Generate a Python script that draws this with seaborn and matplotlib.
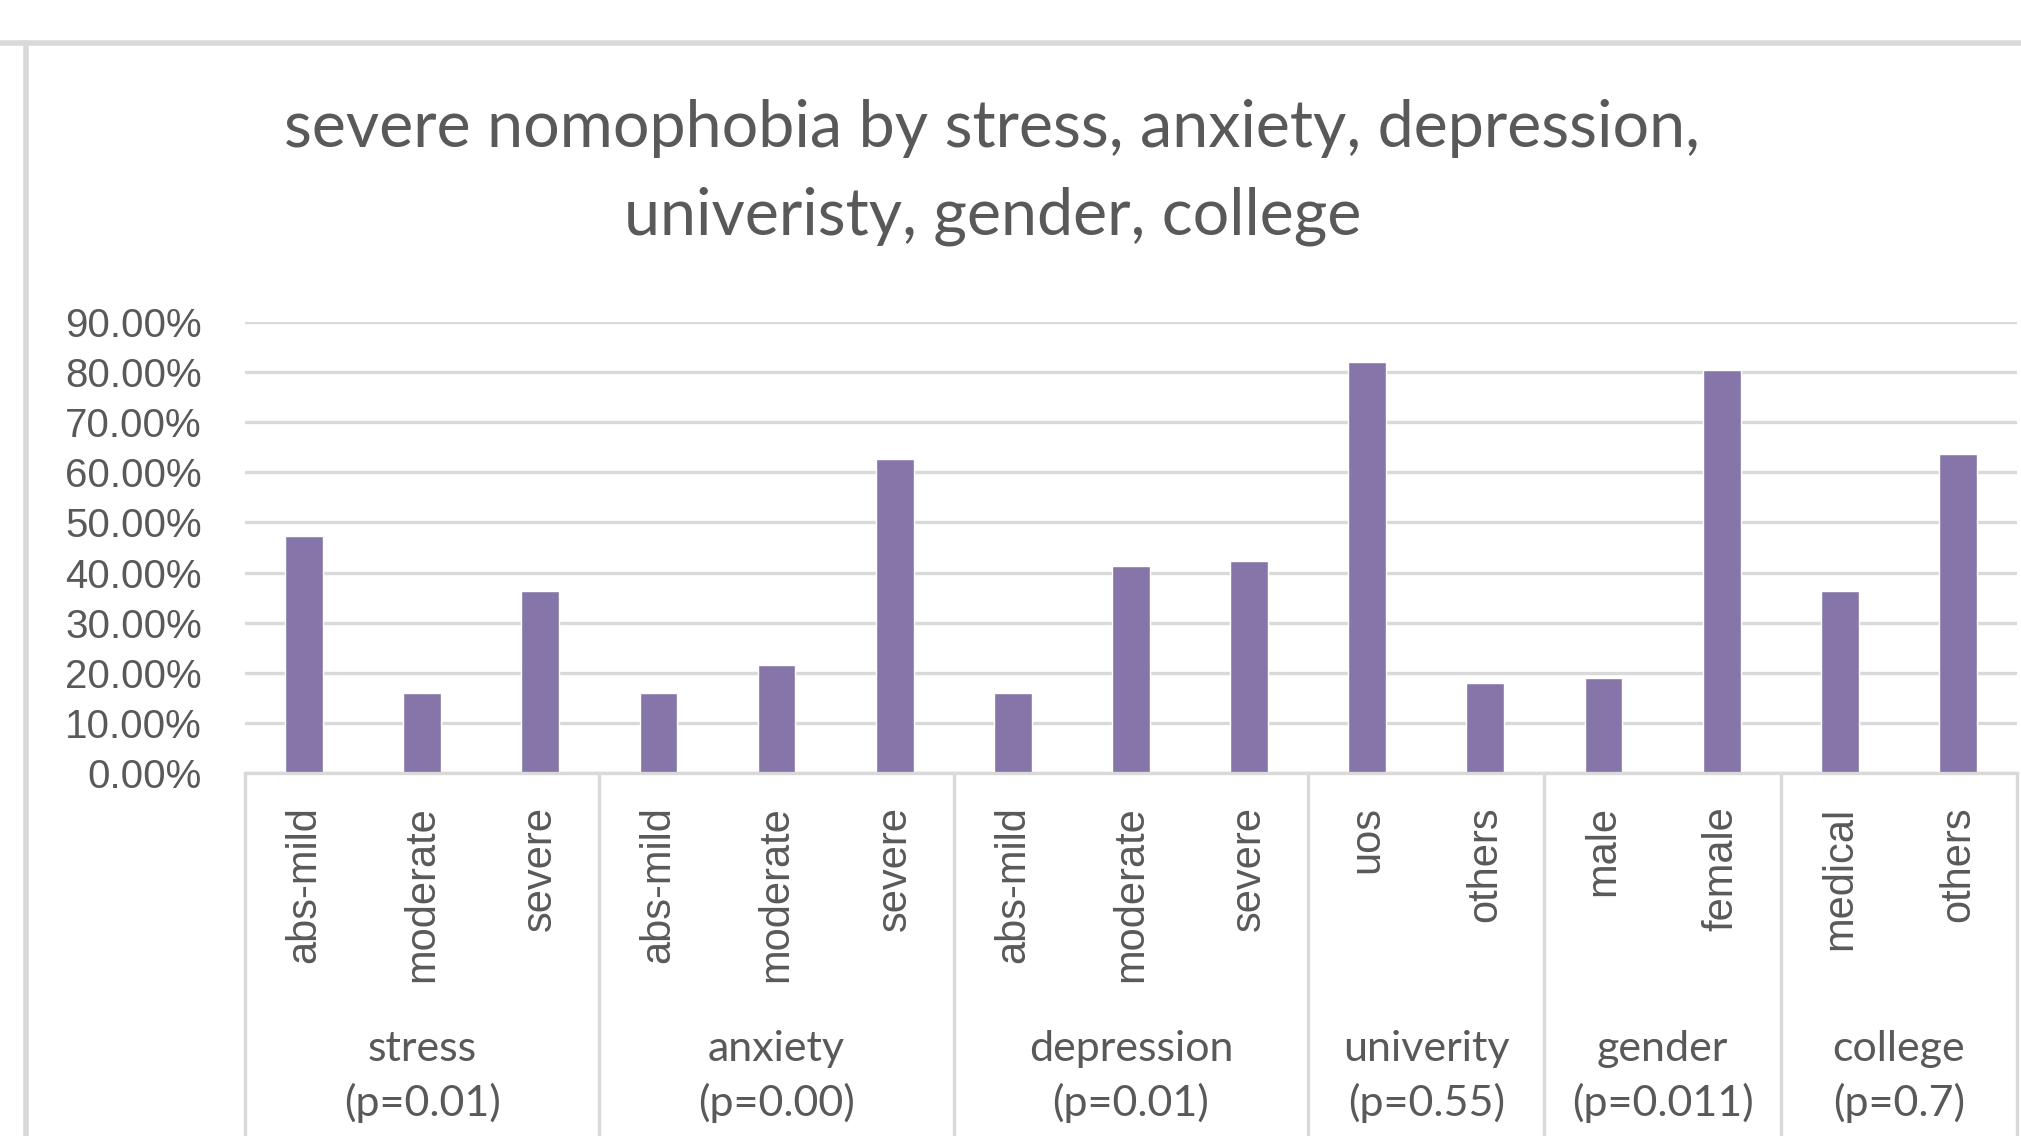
import matplotlib.pyplot as plt
import matplotlib.ticker as mtick
import matplotlib.transforms as mtrans
from matplotlib.lines import Line2D
import pandas as pd
import seaborn as sns

# --- data ---
bar_groups = ["stress", "stress", "stress",
              "anxiety", "anxiety", "anxiety",
              "depression", "depression", "depression",
              "univerity", "univerity",
              "gender", "gender",
              "college", "college"]
bar_levels = ["abs-mild", "moderate", "severe",
              "abs-mild", "moderate", "severe",
              "abs-mild", "moderate", "severe",
              "uos", "others",
              "male", "female",
              "medical", "others"]
bar_values = [0.473, 0.160, 0.363,
              0.160, 0.215, 0.627,
              0.160, 0.413, 0.423,
              0.820, 0.180,
              0.190, 0.805,
              0.363, 0.637]

group_names = ["stress", "anxiety", "depression", "univerity", "gender", "college"]
group_pvalues = ["(p=0.01)", "(p=0.00)", "(p=0.01)", "(p=0.55)", "(p=0.011)", "(p=0.7)"]

title_lines = ["severe nomophobia by stress, anxiety, depression,",
               "univeristy, gender, college"]

BAR_COLOR = "#8675A9"
TEXT_COLOR = "#595959"
LINE_COLOR = "#D9D9D9"
TITLE_FONT = ["Lato", "DejaVu Sans"]

sns.set_theme(style="white")
plt.rcParams["font.family"] = ["Liberation Sans", "DejaVu Sans"]

df = pd.DataFrame({"group": bar_groups, "level": bar_levels, "value": bar_values})
# levels repeat across groups, so give every bar its own key
df["key"] = df["group"] + "|" + df["level"]

fig = plt.figure(figsize=(20.21, 11.36), dpi=100)
ax = fig.add_axes([0.1212, 0.3195, 0.8768, 0.397])

sns.barplot(data=df, x="key", y="value", color=BAR_COLOR, saturation=1,
            width=0.32, ax=ax)

ax.set_xlim(-0.5, len(df) - 0.5)
ax.set_ylim(0, 0.9)
ax.yaxis.set_major_locator(mtick.MultipleLocator(0.1))
ax.yaxis.set_major_formatter(mtick.PercentFormatter(1.0, decimals=2))
ax.grid(axis="y", color=LINE_COLOR, linewidth=2.4)
ax.grid(axis="x", visible=False)
ax.set_axisbelow(True)
for side in ["top", "right", "left"]:
    ax.spines[side].set_visible(False)
ax.spines["bottom"].set_color(LINE_COLOR)
ax.spines["bottom"].set_linewidth(2.4)

ax.set_xticks(range(len(df)))
ax.set_xticklabels(df["level"], rotation=90)
ax.tick_params(axis="x", length=0, pad=24, labelsize=30, labelcolor=TEXT_COLOR)
ax.tick_params(axis="y", length=0, pad=31, labelsize=29, labelcolor=TEXT_COLOR)
ax.set_xlabel("")
ax.set_ylabel("")

# group separators and group labels under the axis
sep_trans = mtrans.blended_transform_factory(ax.transData, ax.transAxes)
lab_trans = mtrans.blended_transform_factory(ax.transData, fig.transFigure)
positions = list(range(len(df)))
bounds = [-0.5]
for name, pval in zip(group_names, group_pvalues):
    idx = [i for i in positions if bar_groups[i] == name]
    left, right = idx[0] - 0.5, idx[-1] + 0.5
    bounds.append(right)
    mid = (left + right) / 2
    ax.text(mid, 0.077, name, transform=lab_trans, ha="center", va="center",
            fontsize=31, color=TEXT_COLOR, family=TITLE_FONT)
    ax.text(mid, 0.029, pval, transform=lab_trans, ha="center", va="center",
            fontsize=31, color=TEXT_COLOR, family=TITLE_FONT)
for b in bounds:
    ax.plot([b, b], [0, -1.2], transform=sep_trans, clip_on=False,
            color=LINE_COLOR, linewidth=2.4)

# title
fig.text(0.491, 0.887, title_lines[0], ha="center", va="center",
         fontsize=46.5, color=TEXT_COLOR, family=TITLE_FONT)
fig.text(0.491, 0.810, title_lines[1], ha="center", va="center",
         fontsize=46.5, color=TEXT_COLOR, family=TITLE_FONT)

# chart frame edges visible in the crop
fig.add_artist(Line2D([0, 1], [0.962, 0.962], transform=fig.transFigure,
                      color=LINE_COLOR, linewidth=4))
fig.add_artist(Line2D([0.0129, 0.0129], [0, 0.962], transform=fig.transFigure,
                      color=LINE_COLOR, linewidth=4))

fig.savefig("out.png", dpi=100)
